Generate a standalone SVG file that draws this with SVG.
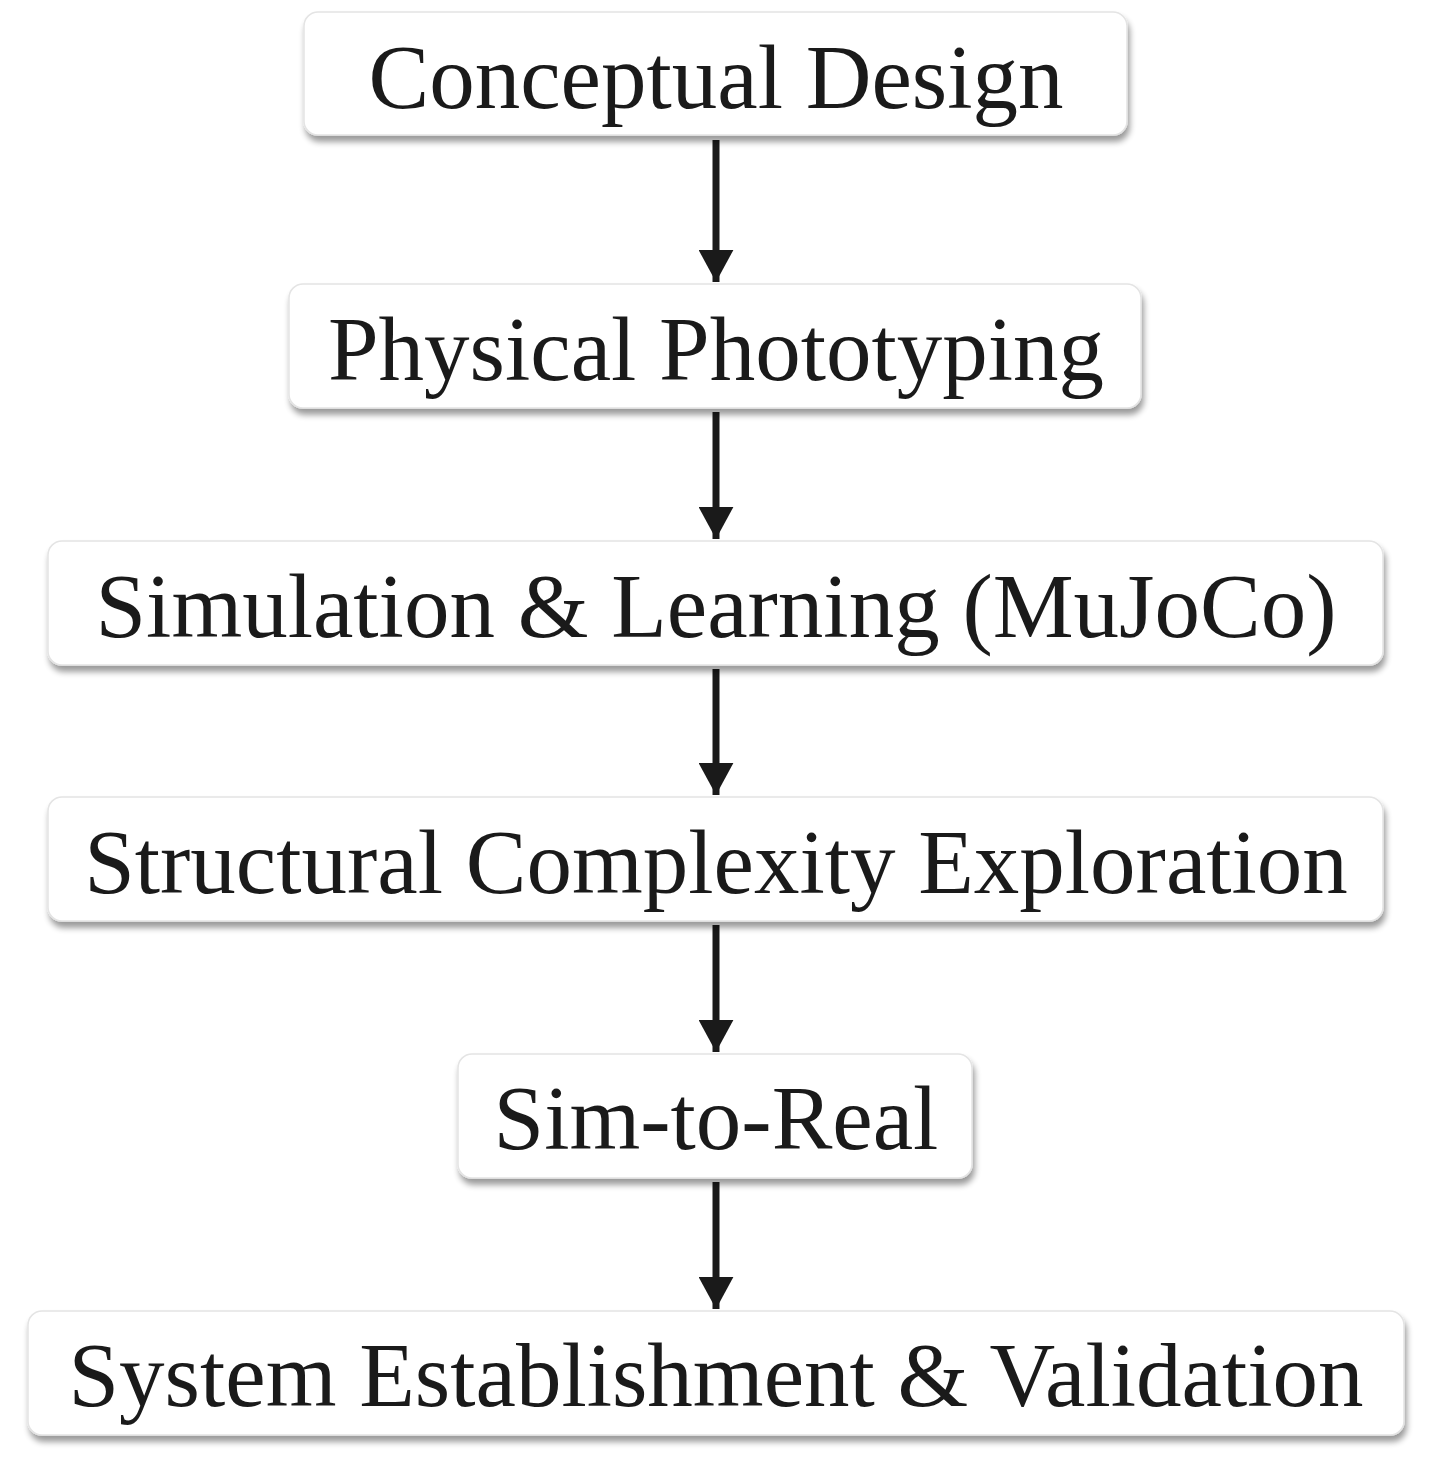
<svg xmlns="http://www.w3.org/2000/svg" width="1434" height="1468" viewBox="0 0 1434 1468">
<style>
.box{fill:#fff;stroke:#e4e4e4;stroke-width:1.5;filter:url(#sh)}
.t{font-family:"Liberation Serif",serif;font-size:91px;fill:#1a1a1a;text-anchor:middle}
.c{stroke:#1a1a1a;stroke-width:7;fill:none;marker-end:url(#ah)}
</style>
<defs>
<filter id="sh" x="-5%" y="-20%" width="110%" height="150%">
<feGaussianBlur in="SourceAlpha" stdDeviation="3"/>
<feOffset dx="2" dy="6"/>
<feComponentTransfer><feFuncA type="linear" slope="0.4"/></feComponentTransfer>
<feMerge><feMergeNode/><feMergeNode in="SourceGraphic"/></feMerge>
</filter>
<marker id="ah" markerWidth="5" markerHeight="5" refX="4.6" refY="2.5" orient="auto" markerUnits="strokeWidth">
<path d="M0,0 L4.6,2.5 L0,5 Z" fill="#1a1a1a"/>
</marker>
</defs>
<g id="connectors">
<line class="c" x1="716" y1="140" x2="716" y2="282"/>
<line class="c" x1="716" y1="412" x2="716" y2="539"/>
<line class="c" x1="716" y1="669" x2="716" y2="795"/>
<line class="c" x1="716" y1="925" x2="716" y2="1052"/>
<line class="c" x1="716" y1="1182" x2="716" y2="1309"/>
</g>
<g id="n1"><rect class="box" x="304" y="12" width="823" height="123" rx="14"/><text class="t" x="716" y="108">Conceptual Design</text></g>
<g id="n2"><rect class="box" x="289" y="284" width="852" height="124" rx="14"/><text class="t" x="716" y="380">Physical Phototyping</text></g>
<g id="n3"><rect class="box" x="48" y="541" width="1335" height="124" rx="14"/><text class="t" x="716" y="637">Simulation &amp; Learning (MuJoCo)</text></g>
<g id="n4"><rect class="box" x="48" y="797" width="1335" height="124" rx="14"/><text class="t" x="716" y="893">Structural Complexity Exploration</text></g>
<g id="n5"><rect class="box" x="458" y="1054" width="514" height="124" rx="14"/><text class="t" x="716" y="1149">Sim-to-Real</text></g>
<g id="n6"><rect class="box" x="28" y="1311" width="1376" height="124" rx="14"/><text class="t" x="716" y="1406">System Establishment &amp; Validation</text></g>
</svg>
